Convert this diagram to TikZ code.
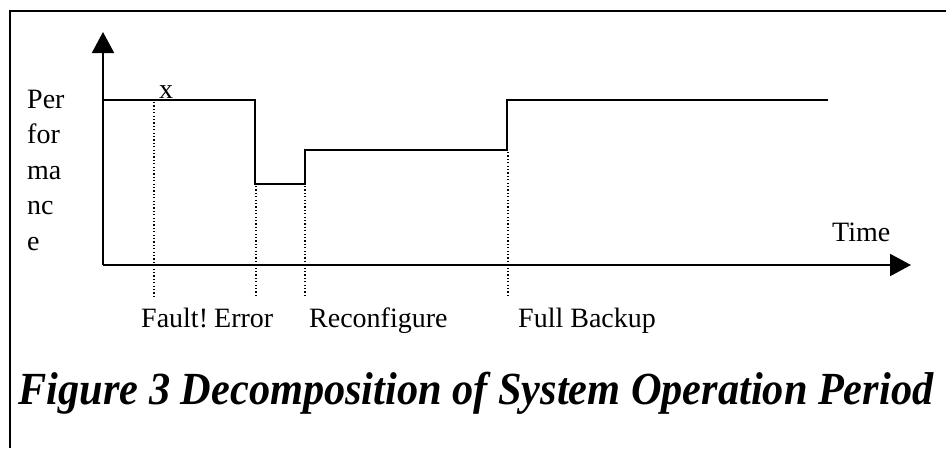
\documentclass[tikz,border=0pt]{standalone}
\usepackage{fontspec}
\setmainfont{Liberation Serif}
\usetikzlibrary{arrows.meta}
\begin{document}
\begin{tikzpicture}[x=1pt,y=-1pt,
  frame/.style={line width=2pt},
  axis/.style={line width=2pt,-{Triangle[length=21pt,width=22pt]}},
  level/.style={line width=2pt},
  marker/.style={line width=2pt,dash pattern=on 1.2pt off 2.2pt},
  lbl/.style={font=\fontsize{28}{34}\selectfont,inner sep=0pt},
  caption/.style={font=\fontsize{46}{52}\selectfont\bfseries\itshape,inner sep=0pt}]
\useasboundingbox (0,0) rectangle (946,448);
% open frame: top and left edges only
\draw[frame] (10,448) -- (10,11) -- (946,11);
% axes
\coordinate (O) at (103,265);
\coordinate (ytip) at (103,32);
\coordinate (xtip) at (911,265);
\draw[axis] (O) -- (ytip);
\draw[axis] (O) -- (xtip);
% performance level over time
\coordinate (p0) at (103,100);
\coordinate (p1) at (255,100);
\coordinate (p2) at (255,184);
\coordinate (p3) at (305,184);
\coordinate (p4) at (305,150);
\coordinate (p5) at (507,150);
\coordinate (p6) at (507,100);
\coordinate (p7) at (828,100);
\draw[level] (p0) -- (p1) -- (p2) -- (p3) -- (p4) -- (p5) -- (p6) -- (p7);
% event markers
\coordinate (fault) at (154,102);
\coordinate (faultb) at (154,297);
\coordinate (errt) at (256,186);
\coordinate (errb) at (256,297);
\coordinate (rect) at (305,186);
\coordinate (recb) at (305,297);
\coordinate (fullt) at (508,152);
\coordinate (fullb) at (508,297);
\draw[marker] (fault) -- (faultb);
\draw[marker] (errt) -- (errb);
\draw[marker] (rect) -- (recb);
\draw[marker] (fullt) -- (fullb);
\node[lbl,anchor=base west] (x) at (159,98) {x};
% axis labels
\node[lbl,anchor=base west,align=left,font=\fontsize{28}{35.5}\selectfont] (perf) at (27,250) {Per\\for\\ma\\nc\\e};
\node[lbl,anchor=base west] (time) at (832,241) {Time};
% event labels
\node[lbl,anchor=base west] (lfault) at (141,327) {Fault!};
\node[lbl,anchor=base west] (lerr) at (214,327) {Error};
\node[lbl,anchor=base west] (lrec) at (309,327) {Reconfigure};
\node[lbl,anchor=base west] (lfull) at (518,327) {Full Backup};
% caption
\node[caption,anchor=base] (cap) at (476,404) {\scalebox{0.92}[1]{Figure 3 Decomposition of System Operation Period}};
\end{tikzpicture}
\end{document}
